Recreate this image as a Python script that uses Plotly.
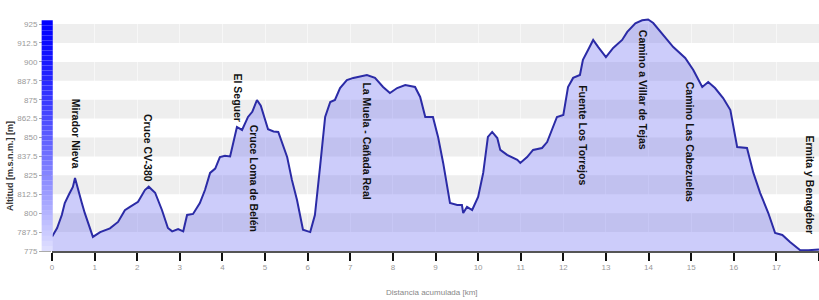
import plotly.graph_objects as go

# Elevation profile (distance km, altitude m)
distance_km = [0.00, 0.12, 0.23, 0.30, 0.40, 0.49, 0.54, 0.61, 0.70, 0.77, 0.86, 0.96,
               1.13, 1.36, 1.55, 1.71, 1.83, 2.02, 2.18, 2.27, 2.42, 2.58, 2.72, 2.82,
               2.96, 3.08, 3.17, 3.31, 3.47, 3.59, 3.71, 3.83, 3.94, 4.06, 4.18, 4.34,
               4.46, 4.60, 4.70, 4.81, 4.90, 5.07, 5.20, 5.31, 5.52, 5.63, 5.75, 5.89,
               6.06, 6.17, 6.29, 6.41, 6.53, 6.64, 6.76, 6.92, 7.07, 7.28, 7.39, 7.58,
               7.77, 7.93, 8.10, 8.29, 8.52, 8.64, 8.76, 8.94, 9.06, 9.18, 9.34, 9.51,
               9.62, 9.65, 9.74, 9.86, 10.00, 10.12, 10.23, 10.33, 10.45, 10.52, 10.68,
               10.92, 10.99, 11.15, 11.29, 11.50, 11.62, 11.85, 12.00, 12.11, 12.23,
               12.39, 12.46, 12.58, 12.70, 12.82, 13.00, 13.17, 13.38, 13.50, 13.69,
               13.85, 13.99, 14.11, 14.34, 14.58, 14.86, 15.05, 15.26, 15.40, 15.56,
               15.75, 15.92, 16.08, 16.31, 16.46, 16.62, 16.81, 16.97, 17.14, 17.32,
               17.56, 17.75, 18.00]
altitude_m = [784.5, 790.2, 798.8, 806.7, 812.5, 817.3, 823.3, 815.3, 806.7, 800.0, 792.0, 784.3,
              787.5, 790.0, 794.2, 802.0, 804.1, 807.5, 815.3, 817.5, 813.5, 802.1, 790.2, 788.0,
              789.5, 788.0, 798.8, 799.5, 806.7, 815.3, 826.6, 829.5, 837.1, 838.0, 837.5, 857.0,
              855.0, 863.6, 867.0, 874.8, 871.0, 855.5, 854.0, 853.7, 837.0, 822.0, 808.7, 789.0,
              787.5, 798.8, 830.5, 863.6, 873.5, 874.8, 882.7, 888.0, 889.4, 890.7, 891.3, 889.4,
              883.4, 879.4, 882.7, 884.7, 883.4, 876.8, 863.6, 863.6, 850.4, 833.2, 806.7, 805.4,
              805.4, 800.1, 804.1, 802.1, 810.7, 826.6, 850.4, 853.7, 849.7, 841.8, 838.5,
              835.2, 833.2, 837.1, 841.8, 843.1, 847.0, 863.6, 864.9, 883.4, 889.4,
              891.3, 901.3, 907.9, 914.5, 909.8, 903.2, 909.2, 914.5, 919.8, 925.5,
              927.5, 928.0, 925.7, 917.8, 909.8, 902.6, 894.6, 883.4, 886.7, 882.7,
              876.1, 868.2, 843.7, 843.1, 826.6, 813.3, 800.1, 786.9, 785.6, 781.0,
              775.5, 775.5, 776.0]

# Waypoints
waypoint_names = ["Mirador Nieva", "Cruce CV-380", "El Seguer", "Cruce Loma de Belén",
                  "La Muela - Cañada Real", "Fuente Los Torrejos", "Camino a Villar de Tejas",
                  "Camino Las Cabezuelas", "Ermita y Benagéber"]
waypoint_km = [0.56, 2.25, 4.37, 4.74, 7.39, 12.46, 13.87, 14.98, 17.84]
waypoint_label_top = [877.0, 867.0, 893.5, 859.5, 887.5, 886.0, 922.5, 888.0, 853.0]

x_ticks = list(range(0, 19))
y_ticks = [775 + 12.5 * i for i in range(13)]
y_min, y_max = 775, 929

fig = go.Figure()
fig.add_trace(go.Scatter(
    x=distance_km, y=altitude_m, mode="lines",
    line=dict(color="#2b2ba6", width=2),
    fill="tozeroy", fillcolor="rgba(110,110,240,0.35)",
    hoverinfo="x+y", showlegend=False, cliponaxis=False,
))

shapes = []
# alternating horizontal bands
for i in range(len(y_ticks) - 1):
    if i % 2 == 1:
        shapes.append(dict(type="rect", xref="paper", yref="y", x0=0, x1=1,
                           y0=y_ticks[i], y1=y_ticks[i + 1],
                           fillcolor="#eeeeee", line=dict(width=0), layer="below"))

# gradient bar next to the y axis
n_strips = 46
bar_lo, bar_hi = 775, 927.5
for k in range(n_strips):
    v0 = bar_lo + (bar_hi - bar_lo) * k / n_strips
    v1 = bar_lo + (bar_hi - bar_lo) * (k + 1) / n_strips
    t = (k + 0.5) / n_strips
    c = int(round(225 * (1 - t) ** 1.3))
    shapes.append(dict(type="rect", xref="paper", yref="paper",
                       x0=-0.0135, x1=0.001,
                       y0=(v0 - y_min) / (y_max - y_min), y1=(v1 - y_min) / (y_max - y_min),
                       fillcolor=f"rgb({c},{c},255)", line=dict(width=0), layer="above"))

annotations = []
last = len(waypoint_names) - 1
for i, (name, km, top) in enumerate(zip(waypoint_names, waypoint_km, waypoint_label_top)):
    ann = dict(x=km, y=top, xref="x", yref="y", text="<b>" + name + "</b>", showarrow=False,
               textangle=90, xanchor="center", yanchor="top",
               font=dict(family="Liberation Sans, Arial", size=10.5, color="#111"))
    if i == last:
        ann.update(x=18, xanchor="right", xshift=-1)
    annotations.append(ann)

annotations.append(dict(x=-0.0548, y=0.365, xref="paper", yref="paper",
                        text="<b>Altitud [m.s.n.m.] [m]</b>", showarrow=False, textangle=-90,
                        xanchor="center", yanchor="middle",
                        font=dict(family="Liberation Sans, Arial", size=9, color="#333")))
annotations.append(dict(x=0.495, y=-0.18, xref="paper", yref="paper",
                        text="Distancia acumulada [km]", showarrow=False,
                        xanchor="center", yanchor="middle",
                        font=dict(family="Liberation Sans, Arial", size=8, color="#888")))

fig.update_layout(
    width=819, height=300,
    margin=dict(l=52, r=0, t=18, b=49),
    paper_bgcolor="white", plot_bgcolor="white",
    hovermode=False,
    shapes=shapes, annotations=annotations,
    font=dict(family="Liberation Sans, Arial", size=8, color="#999"),
    xaxis=dict(range=[0, 18], tickvals=x_ticks, ticks="outside", ticklen=8, tickwidth=2,
               tickcolor="#111", showline=True, linecolor="#555", linewidth=1.5,
               showgrid=True, gridcolor="rgba(255,255,255,0.55)", gridwidth=1,
               zeroline=False, tickfont=dict(size=8, color="#999")),
    yaxis=dict(range=[y_min, y_max], tickvals=y_ticks,
               ticktext=[("%g" % v) for v in y_ticks],
               ticks="outside", ticklen=12, tickwidth=1, tickcolor="#aaa",
               showline=False, showgrid=False, zeroline=False,
               tickfont=dict(size=8, color="#999")),
)

fig.write_html("out.html",
               config={"displayModeBar": False, "staticPlot": True},
               post_script="document.body.style.margin='0';document.body.style.overflow='hidden';")
